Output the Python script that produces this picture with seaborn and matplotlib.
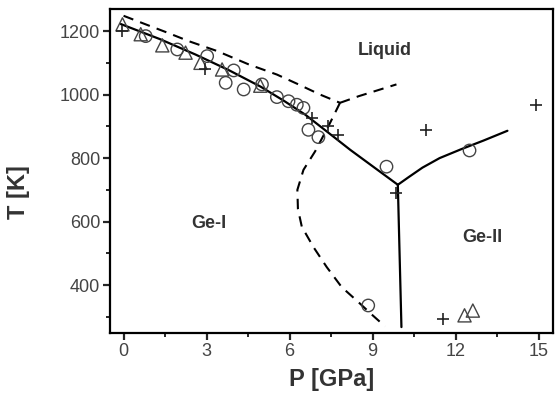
import matplotlib
matplotlib.use("Agg")
import matplotlib.pyplot as plt
from matplotlib.ticker import MultipleLocator
import seaborn as sns

# phase boundaries (P in GPa, T in K)
melt_p = [-0.1, 1.3, 2.6, 3.8, 4.95, 5.8, 6.56, 7.4, 8.19, 9.05, 9.91]
melt_t = [1222, 1175, 1126, 1077, 1025, 980, 937, 880, 826, 771, 716]
ge2_melt_p = [9.91, 10.3, 10.8, 11.42, 12.2, 13.0, 13.87]
ge2_melt_t = [716, 740, 770, 800, 828, 855, 886]
solid_p = [9.91, 10.04]
solid_t = [716, 268]

upper_dash_p = [0.0, 0.8, 1.58, 2.36, 3.38, 4.52, 5.54, 6.32, 7.1, 7.82]
upper_dash_t = [1248, 1221, 1195, 1168, 1137, 1095, 1063, 1032, 1000, 974]
liq_dash_p = [7.82, 8.5, 9.2, 9.86]
liq_dash_t = [974, 995, 1014, 1032]
meta_dash_p = [7.82, 7.4, 6.92, 6.5, 6.28, 6.3, 6.44, 6.86, 7.34, 7.88, 8.48, 9.0, 9.45]
meta_dash_t = [974, 900, 821, 763, 700, 640, 584, 520, 457, 394, 347, 305, 270]

# experimental points
circ_p = [0.8, 1.94, 3.02, 3.98, 3.69, 4.34, 5.0, 5.54, 5.96, 6.26, 6.5, 6.68, 7.04, 9.5, 12.5, 8.84]
circ_t = [1184, 1142, 1121, 1076, 1037, 1016, 1032, 992, 979, 968, 958, 889, 866, 773, 824, 336]
tri_p = [-0.04, 0.62, 1.4, 2.24, 2.78, 3.56, 4.94, 12.32, 12.62]
tri_t = [1221, 1190, 1155, 1132, 1100, 1079, 1028, 305, 320]
plus_p = [-0.05, 2.95, 6.8, 7.4, 7.76, 9.86, 10.94, 14.9, 11.54]
plus_t = [1200, 1082, 926, 900, 873, 689, 889, 968, 294]

sns.set_theme(style="ticks")
plt.rcParams['font.family'] = ['Liberation Sans', 'DejaVu Sans']

fig, ax = plt.subplots(figsize=(5.57, 4.0), dpi=100)
fig.subplots_adjust(left=0.197, right=0.992, top=0.978, bottom=0.168)

for xs, ys in [(melt_p, melt_t), (ge2_melt_p, ge2_melt_t), (solid_p, solid_t)]:
    sns.lineplot(x=xs, y=ys, sort=False, estimator=None, color='black', linewidth=1.6, ax=ax)
for xs, ys in [(upper_dash_p, upper_dash_t), (liq_dash_p, liq_dash_t), (meta_dash_p, meta_dash_t)]:
    sns.lineplot(x=xs, y=ys, sort=False, estimator=None, color='black', linewidth=1.5,
                 linestyle=(0, (5, 3.5)), ax=ax)

sns.scatterplot(x=circ_p, y=circ_t, marker='o', s=80, color='#444444', facecolor='none',
                edgecolor='#444444', linewidth=1.0, ax=ax, zorder=3)
sns.scatterplot(x=tri_p, y=tri_t, marker='^', s=90, color='#444444', facecolor='none',
                edgecolor='#444444', linewidth=1.0, ax=ax, zorder=3)
sns.scatterplot(x=plus_p, y=plus_t, marker='+', s=70, color='#222222', linewidth=1.2, ax=ax, zorder=3)

ax.text(9.44, 1140, "Liquid", fontsize=13, fontweight='bold', color='#333333', ha='center', va='center')
ax.text(3.07, 595, "Ge-I", fontsize=13, fontweight='bold', color='#333333', ha='center', va='center')
ax.text(12.97, 551, "Ge-II", fontsize=13, fontweight='bold', color='#333333', ha='center', va='center')

ax.set_xlim(-0.5, 15.5)
ax.set_ylim(250, 1270)
ax.set_xticks(range(0, 16, 3))
ax.set_yticks(range(400, 1201, 200))
ax.xaxis.set_minor_locator(MultipleLocator(1.5))
ax.yaxis.set_minor_locator(MultipleLocator(100))
ax.tick_params(which='major', direction='out', length=5, width=1.6, labelsize=13,
               labelcolor='#444444', pad=2)
ax.tick_params(which='minor', direction='out', length=3, width=1.4)
for sp in ax.spines.values():
    sp.set_visible(True)
    sp.set_linewidth(1.6)
    sp.set_color('black')

ax.set_xlabel("P [GPa]", fontsize=17, fontweight='bold', color='#333333', labelpad=6)
ax.set_ylabel("T [K]", fontsize=17, fontweight='bold', color='#333333')
ax.yaxis.set_label_coords(-0.18, 0.435)

fig.savefig("out.png", dpi=100)
